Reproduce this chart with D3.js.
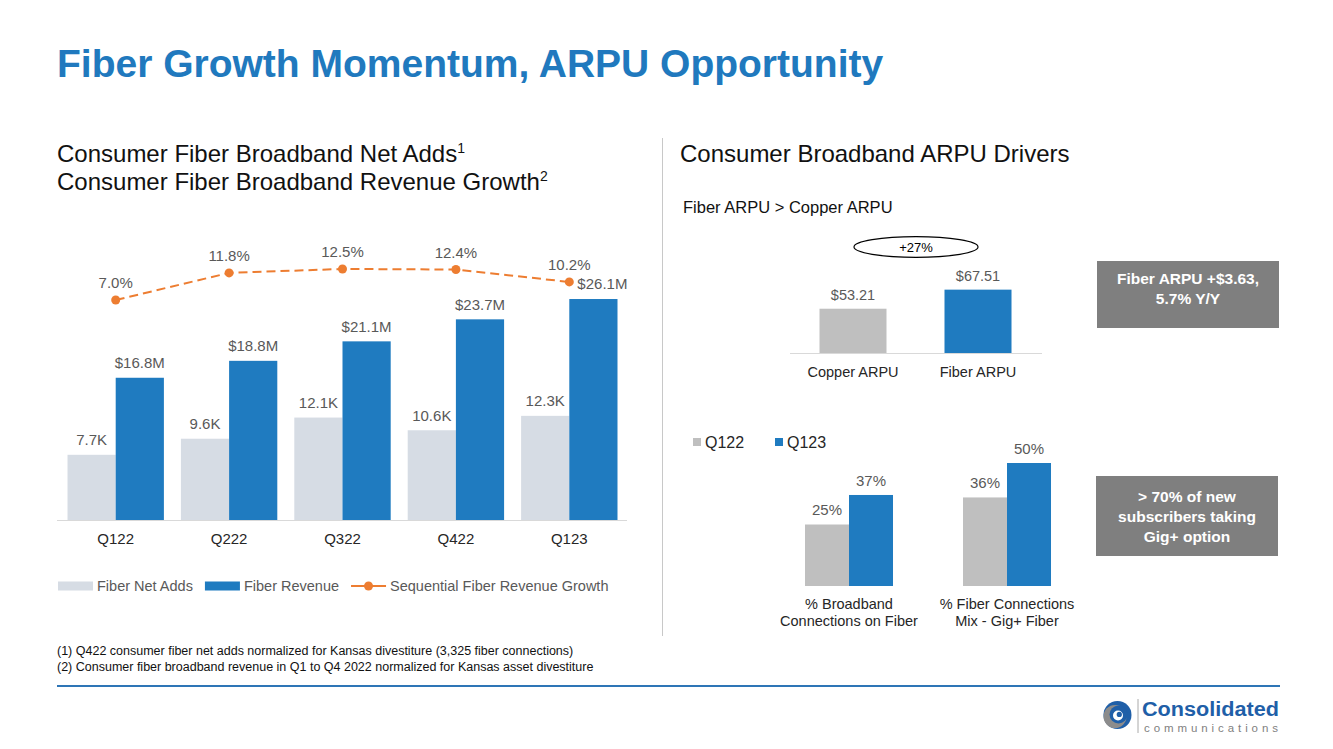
<!DOCTYPE html>
<html><head><meta charset="utf-8">
<script src="https://cdn.jsdelivr.net/npm/d3@7"></script>
<style>
html,body{margin:0;padding:0;background:#fff;}
svg{display:block;font-family:"Liberation Sans",Arial,sans-serif;}
</style></head><body>
<svg id="c" width="1333" height="749"></svg>
<script>
// ---------- data ----------
const quarters = ["Q122", "Q222", "Q322", "Q422", "Q123"];
const netAdds = [7.7, 9.6, 12.1, 10.6, 12.3];          // K
const revenue = [16.8, 18.8, 21.1, 23.7, 26.1];        // $M
const growth = [7.0, 11.8, 12.5, 12.4, 10.2];          // %
const seriesNames = ["Fiber Net Adds", "Fiber Revenue", "Sequential Fiber Revenue Growth"];

const arpuCats = ["Copper ARPU", "Fiber ARPU"];
const arpuValues = [53.21, 67.51];
const arpuDiff = "+27%";

const mixCats = [["% Broadband", "Connections on Fiber"], ["% Fiber Connections", "Mix - Gig+ Fiber"]];
const mixSeries = ["Q122", "Q123"];
const mixQ122 = [25, 36];
const mixQ123 = [37, 50];

const titleText = "Fiber Growth Momentum, ARPU Opportunity";
const box1Lines = ["Fiber ARPU +$3.63,", "5.7% Y/Y"];
const box2Lines = ["> 70% of new", "subscribers taking", "Gig+ option"];
const footnotes = ["(1) Q422 consumer fiber net adds normalized for Kansas divestiture (3,325 fiber connections)",
                   "(2) Consumer fiber broadband revenue in Q1 to Q4 2022 normalized for Kansas asset divestiture"];

// ---------- styles ----------
const BLUE = "#1F7BC0", LIGHT = "#D6DCE4", GRAY = "#BFBFBF", ORANGE = "#ED7D31";
const TITLE_BLUE = "#2079BE", LABEL = "#595959", DARK = "#262626";

const svg = d3.select("#c");

// title
svg.append("text").attr("x", 57).attr("y", 77).attr("font-size", 39).attr("font-weight", "bold")
  .attr("fill", TITLE_BLUE).text(titleText);

// left subtitles
const st = svg.append("g").attr("font-size", 24).attr("fill", "#111");
const l1 = st.append("text").attr("x", 57).attr("y", 162);
l1.append("tspan").text("Consumer Fiber Broadband Net Adds");
l1.append("tspan").attr("font-size", 14).attr("dy", -9).text("1");
const l2 = st.append("text").attr("x", 57).attr("y", 190);
l2.append("tspan").text("Consumer Fiber Broadband Revenue Growth");
l2.append("tspan").attr("font-size", 14).attr("dy", -9).text("2");

// right subtitle
svg.append("text").attr("x", 680).attr("y", 162).attr("font-size", 24).attr("fill", "#111")
  .text("Consumer Broadband ARPU Drivers");

// divider
svg.append("line").attr("x1", 662.5).attr("x2", 662.5).attr("y1", 138).attr("y2", 636)
  .attr("stroke", "#C8C8C8").attr("stroke-width", 1);

// ---------- left chart ----------
const x0 = d3.scaleBand().domain(quarters).range([59, 626]).paddingInner(0.15).paddingOuter(0.075);
const x1 = d3.scaleBand().domain(["adds", "rev"]).range([0, x0.bandwidth()]);
const yL = d3.scaleLinear().domain([0, 30]).range([520, 266]);
const yG = d3.scaleLinear().domain([0, 14]).range([339.5, 260.5]);

const left = svg.append("g");
left.selectAll("rect.adds").data(quarters).join("rect")
  .attr("x", (q) => x0(q) + x1("adds")).attr("width", x1.bandwidth())
  .attr("y", (q, i) => yL(netAdds[i])).attr("height", (q, i) => yL(0) - yL(netAdds[i]))
  .attr("fill", LIGHT);
left.selectAll("rect.rev").data(quarters).join("rect")
  .attr("x", (q) => x0(q) + x1("rev")).attr("width", x1.bandwidth())
  .attr("y", (q, i) => yL(revenue[i])).attr("height", (q, i) => yL(0) - yL(revenue[i]))
  .attr("fill", BLUE);

const xAxisL = left.append("g").attr("transform", "translate(0,520)")
  .call(d3.axisBottom(x0).tickSize(0).tickPadding(13));
xAxisL.select(".domain").attr("stroke", "#D9D9D9").attr("d", `M57,0.5H627`);
xAxisL.selectAll("text").attr("font-size", 15).attr("fill", DARK).attr("font-family", "Liberation Sans, Arial, sans-serif");

// value labels
left.selectAll("text.addsL").data(quarters).join("text")
  .attr("x", (q) => x0(q) + x1("adds") + x1.bandwidth() / 2)
  .attr("y", (q, i) => yL(netAdds[i]) - 15).attr("dy", "0.35em")
  .attr("text-anchor", "middle").attr("font-size", 15).attr("fill", LABEL)
  .text((q, i) => netAdds[i].toFixed(1) + "K");
left.selectAll("text.revL").data(quarters).join("text")
  .attr("x", (q, i) => x0(q) + x1("rev") + x1.bandwidth() / 2 + (i === quarters.length - 1 ? 9 : 0))
  .attr("y", (q, i) => yL(revenue[i]) - 15).attr("dy", "0.35em")
  .attr("text-anchor", "middle").attr("font-size", 15).attr("fill", LABEL)
  .text((q, i) => "$" + revenue[i].toFixed(1) + "M");

// growth line
const gx = (q) => x0(q) + x0.bandwidth() / 2;
left.append("path").datum(quarters)
  .attr("d", d3.line().x(gx).y((q, i) => yG(growth[i])))
  .attr("fill", "none").attr("stroke", ORANGE).attr("stroke-width", 2).attr("stroke-dasharray", "9,5");
left.selectAll("circle.g").data(quarters).join("circle")
  .attr("cx", gx).attr("cy", (q, i) => yG(growth[i])).attr("r", 4.5).attr("fill", ORANGE);
left.selectAll("text.gL").data(quarters).join("text")
  .attr("x", gx).attr("y", (q, i) => yG(growth[i]) - 17).attr("dy", "0.35em")
  .attr("text-anchor", "middle").attr("font-size", 15).attr("fill", LABEL)
  .text((q, i) => growth[i].toFixed(1) + "%");

// legend
const lg = left.append("g").attr("font-size", 14.5).attr("fill", LABEL);
let lx = 58;
const ly = 586;
lg.append("rect").attr("x", lx).attr("y", ly - 4.5).attr("width", 35).attr("height", 9).attr("fill", LIGHT);
let t = lg.append("text").attr("x", lx + 39).attr("y", ly).attr("dy", "0.35em").text(seriesNames[0]);
lx = lx + 39 + t.node().getComputedTextLength() + 12;
lg.append("rect").attr("x", lx).attr("y", ly - 4.5).attr("width", 35).attr("height", 9).attr("fill", BLUE);
t = lg.append("text").attr("x", lx + 39).attr("y", ly).attr("dy", "0.35em").text(seriesNames[1]);
lx = lx + 39 + t.node().getComputedTextLength() + 12;
lg.append("line").attr("x1", lx).attr("x2", lx + 35).attr("y1", ly).attr("y2", ly)
  .attr("stroke", ORANGE).attr("stroke-width", 2);
lg.append("circle").attr("cx", lx + 17.5).attr("cy", ly).attr("r", 4.5).attr("fill", ORANGE);
lg.append("text").attr("x", lx + 39).attr("y", ly).attr("dy", "0.35em").text(seriesNames[2]);

// footnotes
svg.append("g").attr("font-size", 12.5).attr("fill", "#111").selectAll("text").data(footnotes).join("text")
  .attr("x", 57).attr("y", (d, i) => 655 + i * 16).text((d) => d);

// ---------- right top chart ----------
svg.append("text").attr("x", 683).attr("y", 213).attr("font-size", 16.5).attr("fill", "#111")
  .text("Fiber ARPU > Copper ARPU");

const xA = d3.scaleBand().domain(arpuCats).range([790, 1041]).paddingInner(0.464).paddingOuter(0.236);
const yA = d3.scaleLinear().domain([20, 80]).range([353, 273]);
const rt = svg.append("g");
rt.selectAll("rect").data(arpuCats).join("rect")
  .attr("x", (c) => xA(c)).attr("width", xA.bandwidth())
  .attr("y", (c, i) => yA(arpuValues[i])).attr("height", (c, i) => yA(20) - yA(arpuValues[i]))
  .attr("fill", (c, i) => i === 0 ? GRAY : BLUE);
const xAxisA = rt.append("g").attr("transform", "translate(0,353)")
  .call(d3.axisBottom(xA).tickSize(0).tickPadding(13.5));
xAxisA.select(".domain").attr("d", "M790,0.5H1042").attr("stroke", "#D9D9D9");
xAxisA.selectAll("text").attr("font-size", 14.5).attr("fill", DARK).attr("font-family", "Liberation Sans, Arial, sans-serif");
rt.selectAll("text.v").data(arpuCats).join("text")
  .attr("x", (c) => xA(c) + xA.bandwidth() / 2).attr("y", (c, i) => yA(arpuValues[i]) - 14).attr("dy", "0.35em")
  .attr("text-anchor", "middle").attr("font-size", 14.5).attr("fill", LABEL)
  .text((c, i) => "$" + arpuValues[i].toFixed(2));
rt.append("ellipse").attr("cx", 916).attr("cy", 247).attr("rx", 62).attr("ry", 10.3)
  .attr("fill", "none").attr("stroke", "#000").attr("stroke-width", 1.2);
rt.append("text").attr("x", 916).attr("y", 247).attr("dy", "0.35em").attr("text-anchor", "middle")
  .attr("font-size", 13).attr("fill", "#000").text(arpuDiff);

// ---------- right bottom chart ----------
const xM = d3.scaleBand().domain(d3.range(mixCats.length)).range([770, 1086]).paddingInner(0.443).paddingOuter(0.2215);
const xM1 = d3.scaleBand().domain(mixSeries).range([0, xM.bandwidth()]);
const yM = d3.scaleLinear().domain([0, 50]).range([586, 463]);
const rb = svg.append("g");
const mixVals = [mixQ122, mixQ123];
mixSeries.forEach((s, si) => {
  rb.selectAll("rect.s" + si).data(mixCats).join("rect")
    .attr("x", (c, i) => xM(i) + xM1(s)).attr("width", xM1.bandwidth())
    .attr("y", (c, i) => yM(mixVals[si][i])).attr("height", (c, i) => yM(0) - yM(mixVals[si][i]))
    .attr("fill", si === 0 ? GRAY : BLUE);
  rb.selectAll("text.s" + si).data(mixCats).join("text")
    .attr("x", (c, i) => xM(i) + xM1(s) + xM1.bandwidth() / 2)
    .attr("y", (c, i) => yM(mixVals[si][i]) - 14.5).attr("dy", "0.35em")
    .attr("text-anchor", "middle").attr("font-size", 15).attr("fill", LABEL)
    .text((c, i) => mixVals[si][i] + "%");
});
const catG = rb.append("g").attr("font-size", 14.5).attr("fill", DARK).attr("text-anchor", "middle");
mixCats.forEach((lines, i) => {
  lines.forEach((ln, j) => {
    catG.append("text").attr("x", xM(i) + xM.bandwidth() / 2).attr("y", 604 + j * 17).attr("dy", "0.35em").text(ln);
  });
});
// legend
const rl = rb.append("g").attr("font-size", 16).attr("fill", DARK);
let rx = 693;
mixSeries.forEach((s, si) => {
  rl.append("rect").attr("x", rx).attr("y", 438).attr("width", 8).attr("height", 8).attr("fill", si === 0 ? GRAY : BLUE);
  rl.append("text").attr("x", rx + 12).attr("y", 442).attr("dy", "0.35em").text(s);
  rx = rx + 82;
});

// ---------- gray boxes ----------
function box(x, y, w, h, lines, y0) {
  svg.append("rect").attr("x", x).attr("y", y).attr("width", w).attr("height", h).attr("fill", "#7F7F7F");
  svg.append("g").attr("font-size", 15.5).attr("font-weight", "bold").attr("fill", "#fff").attr("text-anchor", "middle")
    .selectAll("text").data(lines).join("text")
    .attr("x", x + w / 2).attr("y", (d, i) => y0 + i * 20).attr("dy", "0.35em").text((d) => d);
}
box(1097, 261, 182, 67, box1Lines, 279);
box(1096, 476, 182, 80, box2Lines, 497);

// ---------- footer ----------
svg.append("line").attr("x1", 57).attr("x2", 1280).attr("y1", 686).attr("y2", 686)
  .attr("stroke", "#2E75B6").attr("stroke-width", 2);
const logo = svg.append("g");
const lcx = 1117.5, lcy = 715;
logo.append("circle").attr("cx", lcx).attr("cy", lcy).attr("r", 14).attr("fill", "#1F5FA8");
logo.append("circle").attr("cx", lcx - 2.5).attr("cy", lcy + 1.5).attr("r", 11.5).attr("fill", "#8C8C8C");
logo.append("circle").attr("cx", lcx + 1).attr("cy", lcy - 0.5).attr("r", 9).attr("fill", "#1F5FA8");
logo.append("circle").attr("cx", lcx + 0.5).attr("cy", lcy + 0.5).attr("r", 5).attr("fill", "#fff");
logo.append("circle").attr("cx", lcx + 1.8).attr("cy", lcy - 0.6).attr("r", 2.6).attr("fill", "#1F5FA8");
logo.append("line").attr("x1", 1138).attr("x2", 1138).attr("y1", 699).attr("y2", 733).attr("stroke", "#AAAAAA");
logo.append("text").attr("x", 1142).attr("y", 716).attr("font-size", 20).attr("font-weight", "bold")
  .attr("fill", "#1F5FA8").attr("textLength", 137).attr("lengthAdjust", "spacingAndGlyphs").text("Consolidated");
logo.append("text").attr("x", 1144).attr("y", 731.5).attr("font-size", 11.5)
  .attr("fill", "#7F7F7F").attr("textLength", 134).attr("lengthAdjust", "spacing").text("communications");
</script>
</body></html>
